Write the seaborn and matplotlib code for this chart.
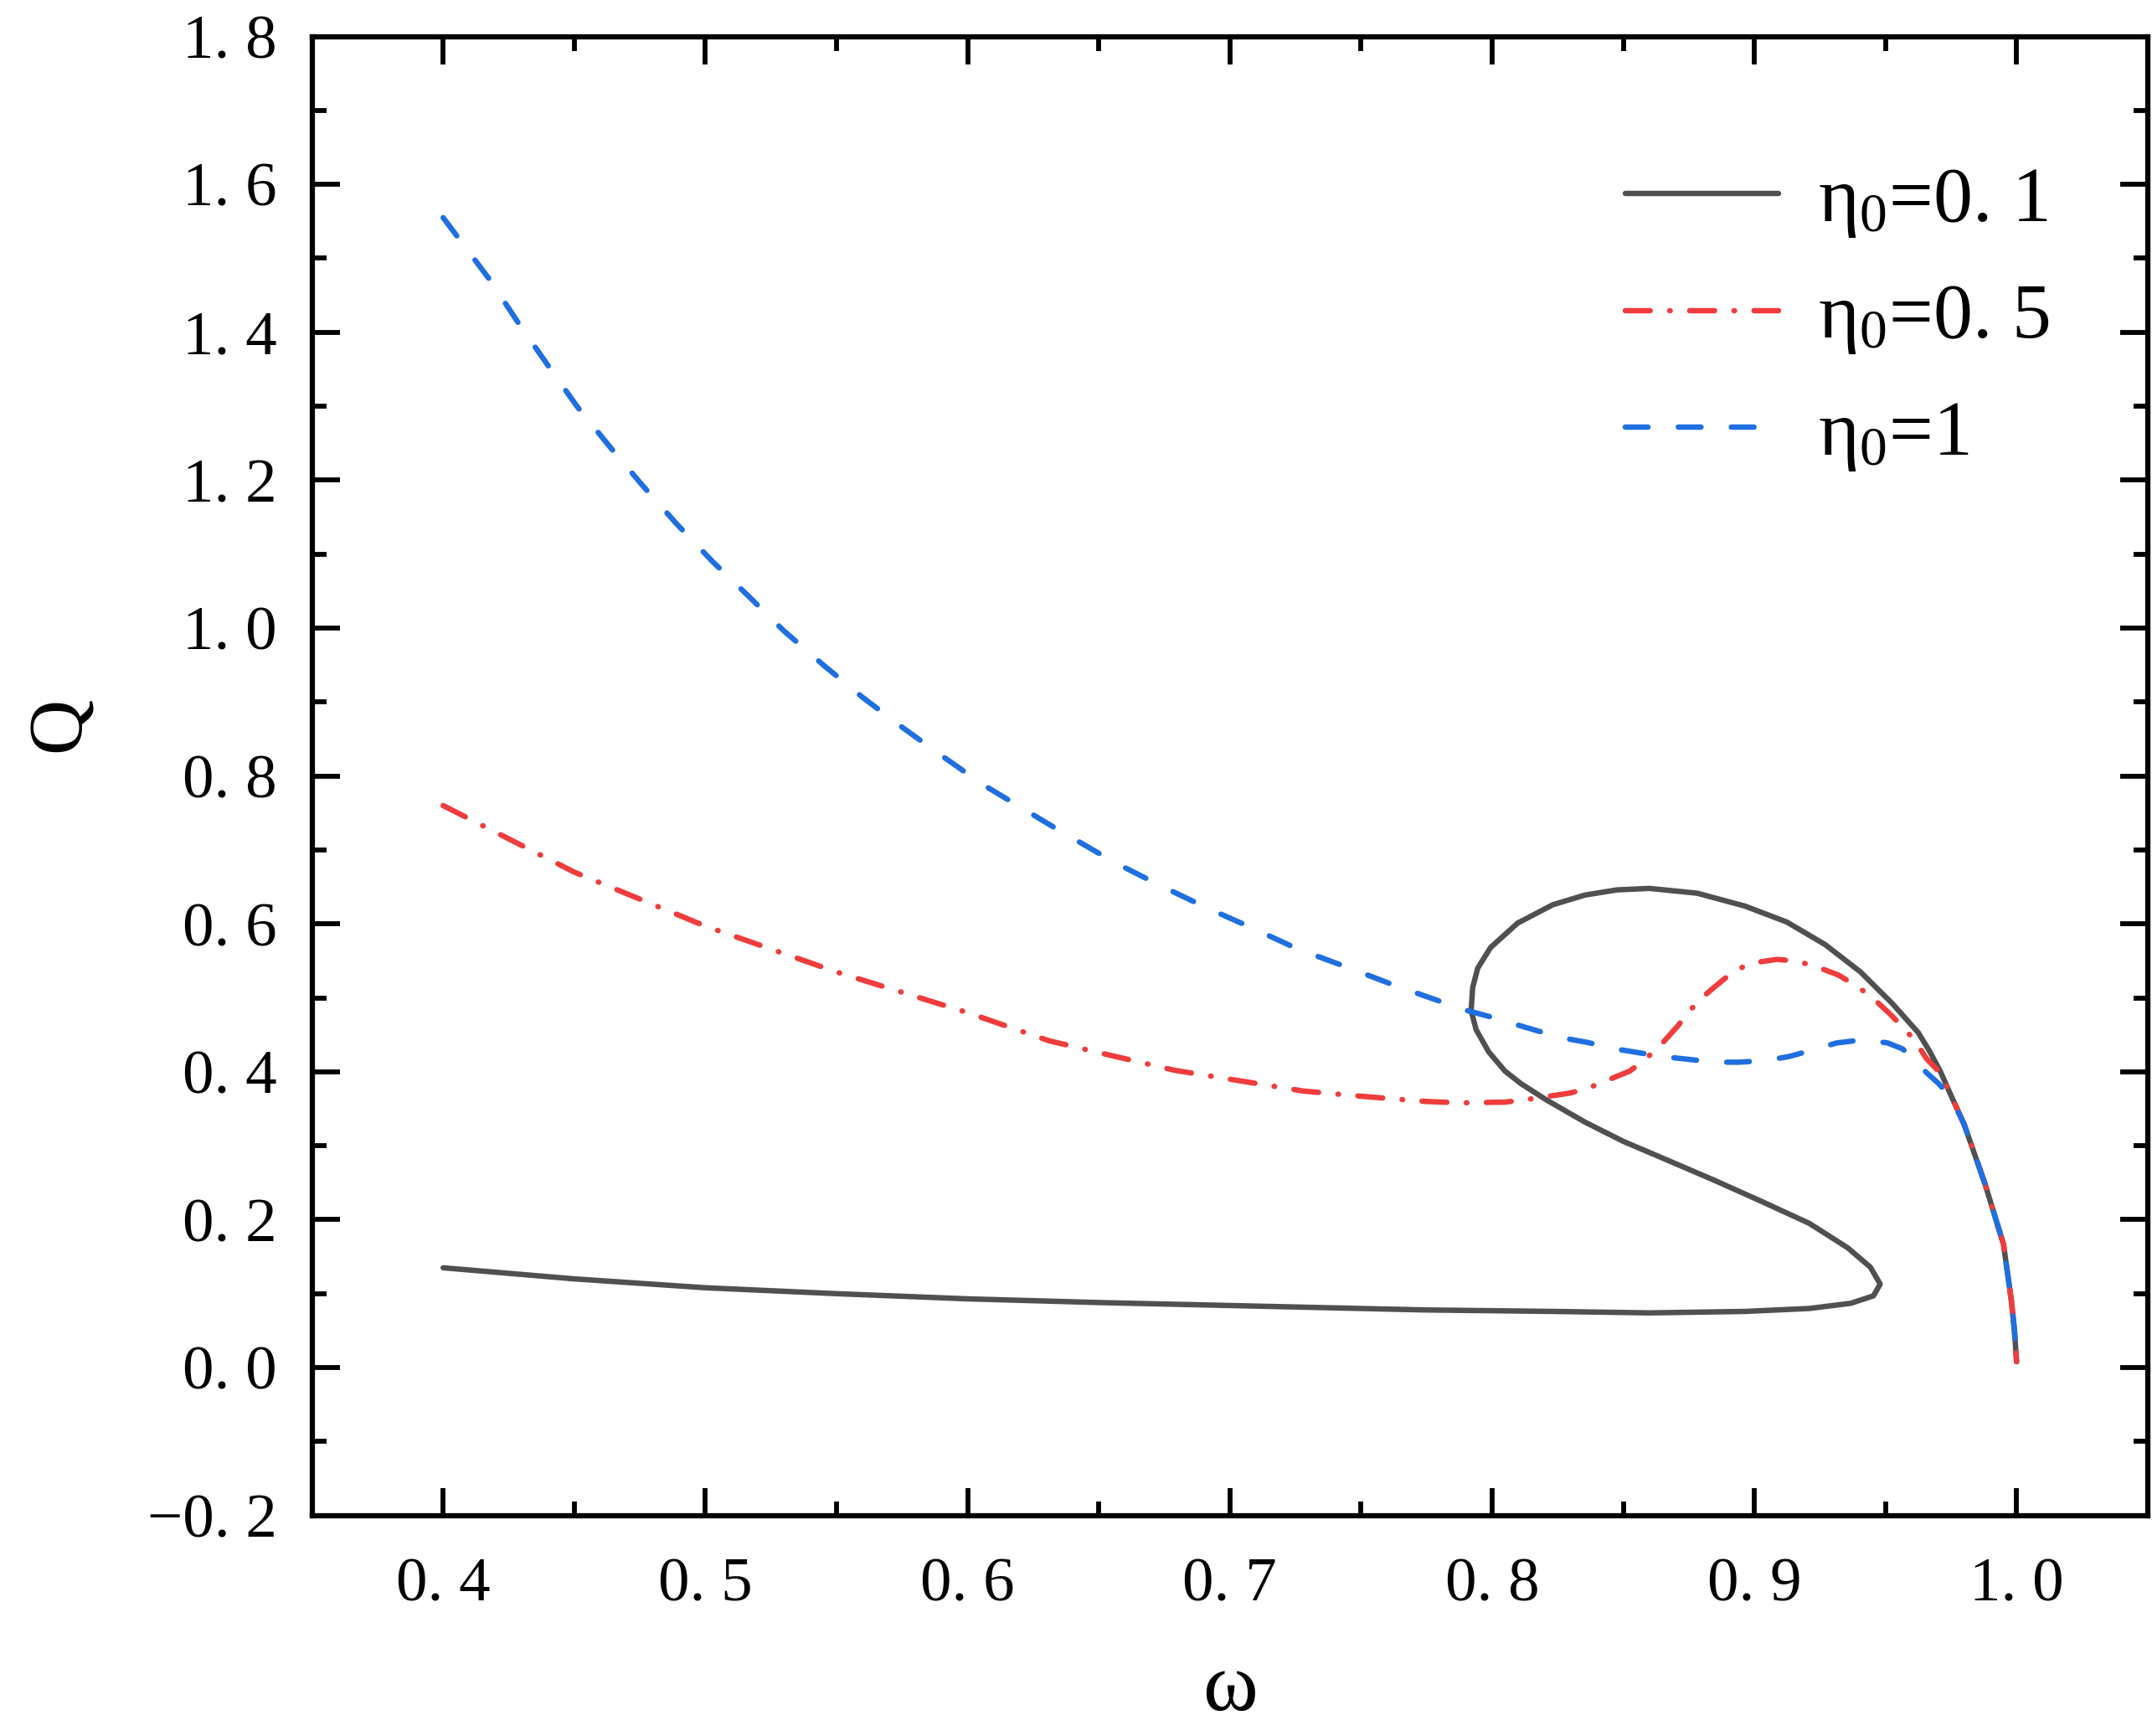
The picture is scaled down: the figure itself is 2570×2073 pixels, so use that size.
import numpy as np
import pandas as pd
import matplotlib
matplotlib.use("Agg")
import matplotlib.pyplot as plt
import seaborn as sns

# eta0 = 0.1 (solid, loops back on itself)
w_01 = [0.40, 0.45, 0.50, 0.55, 0.60, 0.65, 0.70, 0.7743, 0.8232, 0.860, 0.8965,
        0.921, 0.9368, 0.9454, 0.948, 0.9442, 0.9356, 0.921, 0.9026, 0.8843,
        0.8672, 0.850, 0.8354, 0.8207, 0.811, 0.8049, 0.7987, 0.7939, 0.792,
        0.7926, 0.7945, 0.7994, 0.8097, 0.8232, 0.8354, 0.8476, 0.860, 0.8782,
        0.8965, 0.9124, 0.927, 0.9405, 0.9527, 0.9625, 0.9668, 0.971, 0.975, 0.980,
        0.988, 0.995, 0.998, 0.9992, 1.000]
q_01 = [0.135, 0.120, 0.108, 0.100, 0.093, 0.088, 0.084, 0.078, 0.076, 0.074, 0.076,
        0.080, 0.087, 0.097, 0.113, 0.136, 0.162, 0.195, 0.225, 0.254,
        0.280, 0.306, 0.332, 0.362, 0.384, 0.401, 0.427, 0.457, 0.483,
        0.514, 0.540, 0.568, 0.601, 0.626, 0.639, 0.646, 0.648, 0.6415,
        0.624, 0.6025, 0.572, 0.535, 0.492, 0.453, 0.428, 0.400, 0.368, 0.329,
        0.248, 0.167, 0.091, 0.050, 0.008]

# eta0 = 0.5 (dash-dot)
w_05 = [0.40, 0.45, 0.50, 0.55, 0.60, 0.631, 0.65, 0.679, 0.70, 0.728, 0.75, 0.7743,
        0.7877, 0.8049, 0.8122, 0.8293, 0.836, 0.8525, 0.858, 0.8635, 0.8708,
        0.875, 0.8794, 0.8873, 0.8922, 0.8989, 0.9087, 0.9154, 0.9222, 0.932,
        0.938, 0.9442, 0.9515, 0.957, 0.9613, 0.9656, 0.971, 0.975, 0.980,
        0.988, 0.995, 0.998, 0.9992, 1.0]
q_05 = [0.760, 0.670, 0.597, 0.535, 0.480, 0.442, 0.426, 0.402, 0.390, 0.374, 0.367, 0.360,
        0.358, 0.359, 0.362, 0.371, 0.377, 0.401, 0.416, 0.433, 0.462,
        0.481, 0.4985, 0.522, 0.536, 0.547, 0.552, 0.550, 0.544, 0.531,
        0.518, 0.503, 0.479, 0.459, 0.442, 0.418, 0.398, 0.368, 0.329,
        0.248, 0.167, 0.091, 0.050, 0.008]

# eta0 = 1 (dashed)
w_10 = [0.40, 0.418, 0.4286, 0.44, 0.451, 0.4636, 0.476, 0.489, 0.503, 0.5165,
        0.530, 0.545, 0.5597, 0.575, 0.5907, 0.606, 0.6318, 0.6561, 0.6734,
        0.691, 0.7088, 0.7259, 0.7443, 0.762, 0.7804, 0.7908, 0.7987, 0.8091,
        0.8177, 0.8281, 0.836, 0.847, 0.8556, 0.8653, 0.8745, 0.8849, 0.894,
        0.9038, 0.913, 0.9228, 0.9313, 0.9417, 0.9509, 0.9565, 0.9607, 0.9656,
        0.970, 0.975, 0.980, 0.988, 0.995, 0.998, 0.9992, 1.0]
q_10 = [1.555, 1.470, 1.413, 1.355, 1.300, 1.245, 1.193, 1.141, 1.089, 1.043,
        0.996, 0.950, 0.907, 0.866, 0.826, 0.788, 0.733, 0.683, 0.652,
        0.622, 0.594, 0.566, 0.542, 0.518, 0.495, 0.4825, 0.475, 0.464,
        0.455, 0.445, 0.440, 0.431, 0.426, 0.4205, 0.417, 0.413, 0.413,
        0.415, 0.4205, 0.430, 0.439, 0.4434, 0.439, 0.431, 0.418, 0.399,
        0.385, 0.366, 0.329, 0.248, 0.167, 0.091, 0.050, 0.008]

x_ticks = [0.4, 0.5, 0.6, 0.7, 0.8, 0.9, 1.0]
x_labels = ["0. 4", "0. 5", "0. 6", "0. 7", "0. 8", "0. 9", "1. 0"]
y_ticks = [-0.2, 0.0, 0.2, 0.4, 0.6, 0.8, 1.0, 1.2, 1.4, 1.6, 1.8]
y_labels = ["\u22120. 2", "0. 0", "0. 2", "0. 4", "0. 6", "0. 8", "1. 0",
            "1. 2", "1. 4", "1. 6", "1. 8"]

sns.set_theme(style="ticks")
plt.rcParams["font.family"] = ["Liberation Serif", "DejaVu Serif"]
plt.rcParams["mathtext.fontset"] = "custom"
plt.rcParams["mathtext.rm"] = "Liberation Serif"
plt.rcParams["mathtext.it"] = "Liberation Serif"
for key in ["text.color", "axes.labelcolor", "xtick.color", "ytick.color",
            "axes.edgecolor"]:
    plt.rcParams[key] = "black"

fig, ax = plt.subplots(figsize=(2570 / 300, 2073 / 300), dpi=300)
fig.subplots_adjust(left=0.145, right=0.998, bottom=0.127, top=0.979)

lw = 1.55
series = [
    (w_01, q_01, "#505050", "-", r"$\mathrm{η}_0$=0. 1"),
    (w_05, q_05, "#F03C3C", (0, (4.6, 3.6, 0.1, 3.6)), r"$\mathrm{η}_0$=0. 5"),
    (w_10, q_10, "#1F6FE0", (0, (4.2, 5.6)), r"$\mathrm{η}_0$=1"),
]
for w, q, c, ls, lab in series:
    df = pd.DataFrame({"w": w, "Q": q})
    sns.lineplot(data=df, x="w", y="Q", sort=False, estimator=None, ax=ax,
                 color=c, linewidth=lw, label=lab)
    line = ax.get_lines()[-1]
    line.set_linestyle(ls)
    line.set_dash_capstyle("round")
    line.set_solid_capstyle("round")
    line.set_solid_joinstyle("round")

ax.set_xlim(0.35, 1.05)
ax.set_ylim(-0.2, 1.8)
ax.set_xticks(x_ticks)
ax.set_xticklabels(x_labels)
ax.set_yticks(y_ticks)
ax.set_yticklabels(y_labels)
ax.set_xticks(np.arange(0.35, 1.051, 0.05), minor=True)
ax.set_yticks(np.arange(-0.2, 1.81, 0.1), minor=True)
ax.tick_params(which="both", direction="in", top=True, right=True, width=1.4,
               color="black")
ax.tick_params(which="major", length=8, labelsize=18, pad=10)
ax.tick_params(which="minor", length=4)
ax.tick_params(axis="x", which="major", pad=12)
for s in ax.spines.values():
    s.set_linewidth(1.5)
    s.set_color("black")

ax.set_xlabel("ω", fontsize=24, labelpad=11)
ax.set_ylabel("Q", fontsize=22)
ax.yaxis.set_label_coords(-0.118, 0.535)

ax.legend(loc="upper right", bbox_to_anchor=(0.985, 0.96), frameon=False,
          fontsize=22.5, handlelength=1.95, handletextpad=0.5, labelspacing=0.55)

plt.savefig("out.png", dpi=300)
plt.close()
